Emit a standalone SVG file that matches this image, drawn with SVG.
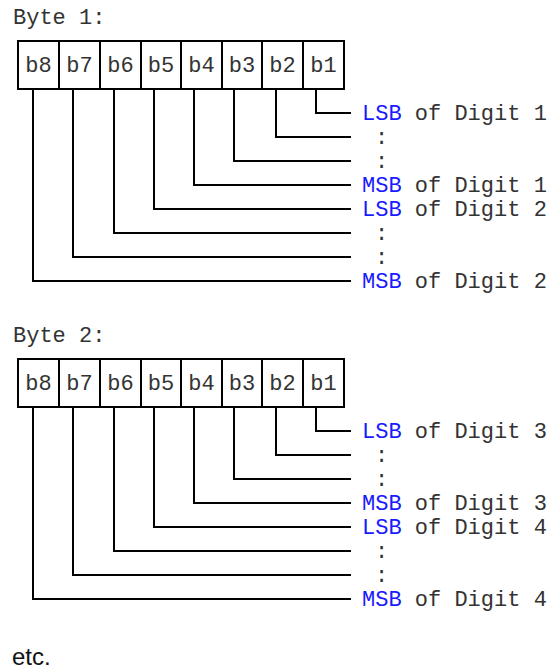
<svg xmlns="http://www.w3.org/2000/svg" width="552" height="671" viewBox="0 0 552 671">
<style>
.mono{font-family:"Liberation Mono","Courier New",monospace;font-size:22px;fill:#333}
.hl{fill:#1a1aff}
.cell{font-family:"Liberation Mono","Courier New",monospace;font-size:22px;fill:#333;text-anchor:middle}
.box{fill:#fff;stroke:#000;stroke-width:2}
.div{stroke:#000;stroke-width:2}
.conn{fill:none;stroke:#000;stroke-width:2}
.sans{font-family:"Liberation Sans",Arial,sans-serif;font-size:24px;fill:#111}
</style>
<defs>
<g id="register">
<rect class="box" x="18" y="41" width="326" height="48"/>
<path class="div" d="M59 41V89M100 41V89M141 41V89M181 41V89M222 41V89M262 41V89M303 41V89"/>
<text class="cell" x="38.5" y="72">b8</text>
<text class="cell" x="79.5" y="72">b7</text>
<text class="cell" x="120.5" y="72">b6</text>
<text class="cell" x="161" y="72">b5</text>
<text class="cell" x="201.5" y="72">b4</text>
<text class="cell" x="242" y="72">b3</text>
<text class="cell" x="282.5" y="72">b2</text>
<text class="cell" x="323.5" y="72">b1</text>
</g>
<path id="wires" class="conn" d="M316 89V113H351M276 89V137H351M234 89V161H351M194 89V185H351M154 89V209H351M114 89V233H351M73 89V257H351M33 89V281H351"/>
</defs>

<g id="byte1">
<text class="mono" x="13" y="24">Byte 1:</text>
<use href="#register"/>
</g>
<g id="byte1-labels">
<text class="mono" x="362" y="120"><tspan class="hl">LSB</tspan> of Digit 1</text>
<text class="mono" x="375" y="144">:</text>
<text class="mono" x="375" y="168">:</text>
<text class="mono" x="362" y="192"><tspan class="hl">MSB</tspan> of Digit 1</text>
<text class="mono" x="362" y="216"><tspan class="hl">LSB</tspan> of Digit 2</text>
<text class="mono" x="375" y="240">:</text>
<text class="mono" x="375" y="264">:</text>
<text class="mono" x="362" y="288"><tspan class="hl">MSB</tspan> of Digit 2</text>
</g>

<g id="byte2">
<text class="mono" x="13" y="342">Byte 2:</text>
<use href="#register" y="318"/>
</g>
<g id="byte2-labels">
<text class="mono" x="362" y="438"><tspan class="hl">LSB</tspan> of Digit 3</text>
<text class="mono" x="375" y="462">:</text>
<text class="mono" x="375" y="486">:</text>
<text class="mono" x="362" y="510"><tspan class="hl">MSB</tspan> of Digit 3</text>
<text class="mono" x="362" y="534"><tspan class="hl">LSB</tspan> of Digit 4</text>
<text class="mono" x="375" y="558">:</text>
<text class="mono" x="375" y="582">:</text>
<text class="mono" x="362" y="606"><tspan class="hl">MSB</tspan> of Digit 4</text>
</g>

<g id="connectors">
<use href="#wires"/>
<use href="#wires" y="318"/>
</g>

<g id="etc">
<text class="sans" x="12" y="665">etc.</text>
</g>
</svg>
